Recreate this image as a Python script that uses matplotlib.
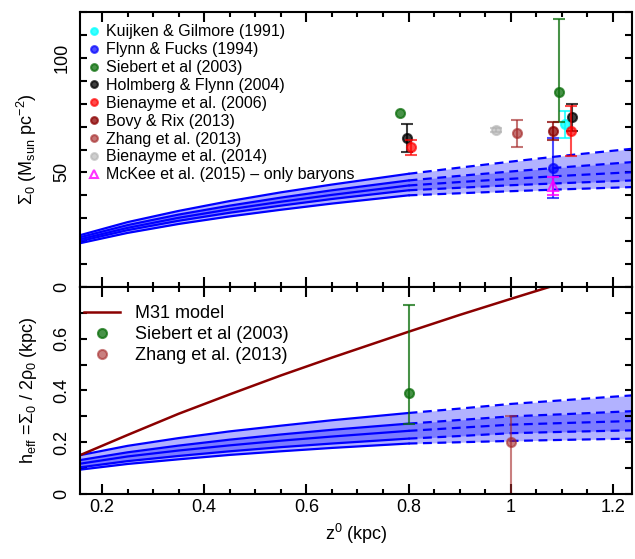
import numpy as np
import matplotlib
matplotlib.use('Agg')
import matplotlib.pyplot as plt
from matplotlib.ticker import MultipleLocator

plt.rcParams['font.family'] = ['Liberation Sans', 'DejaVu Sans']
plt.rcParams['mathtext.fontset'] = 'custom'
plt.rcParams['mathtext.rm'] = 'Liberation Sans'
plt.rcParams['mathtext.it'] = 'Liberation Sans:italic'

# Malla en z (kpc) de las curvas del modelo
z = [0.157, 0.25, 0.35, 0.45, 0.55, 0.65, 0.8, 0.9, 1.0, 1.1, 1.237]
z_obs = 0.8  # hasta aqui linea continua, despues discontinua

# Sigma_0 del modelo (5 curvas, de arriba a abajo)
sig1 = [22.6, 28.3, 33.2, 37.5, 41.3, 44.7, 49.4, 52.1, 54.7, 57.2, 60.3]
sig2 = [21.7, 27.0, 31.6, 35.5, 39.0, 42.2, 46.5, 48.5, 50.4, 52.2, 54.5]
sig3 = [20.8, 25.8, 30.2, 33.9, 37.2, 40.2, 44.3, 45.8, 47.2, 48.5, 50.1]
sig4 = [20.0, 24.8, 28.9, 32.4, 35.5, 38.4, 42.2, 43.3, 44.4, 45.3, 46.5]
sig5 = [19.1, 23.6, 27.5, 30.8, 33.7, 36.4, 40.0, 40.9, 41.8, 42.6, 43.6]

# h_eff del modelo (5 curvas)
h1 = [0.150, 0.186, 0.216, 0.242, 0.264, 0.285, 0.313, 0.330, 0.348, 0.362, 0.381]
h2 = [0.131, 0.161, 0.187, 0.210, 0.230, 0.248, 0.272, 0.286, 0.300, 0.308, 0.320]
h3 = [0.117, 0.145, 0.168, 0.188, 0.206, 0.222, 0.244, 0.256, 0.268, 0.274, 0.282]
h4 = [0.103, 0.127, 0.147, 0.165, 0.181, 0.195, 0.214, 0.224, 0.235, 0.240, 0.246]
h5 = [0.094, 0.116, 0.134, 0.151, 0.165, 0.178, 0.195, 0.200, 0.205, 0.209, 0.214]

# Modelo M31
h_m31 = [0.150, 0.228, 0.310, 0.385, 0.458, 0.527, 0.627, 0.692, 0.754, 0.815, 0.895]

# Observaciones de Sigma_0: (z, valor, error abajo, error arriba)
kuijken = ([1.107], [71], [6], [6])
flynn = ([1.083], [52], [13], [13])
siebert = ([0.783, 1.095], [76, 85], [0, 13], [0, 32])
holmberg = ([0.797, 1.12], [65, 74], [6, 6], [6, 6])
bienayme06 = ([0.805, 1.117], [61, 68], [3.3, 11], [3.3, 11])
bovy = ([1.083], [68], [4], [4])
zhang = ([1.013], [67], [6], [6])
bienayme14 = ([0.971], [68.5], [1], [1])
mckee = ([1.083], [44], [4], [4])

# Observaciones de h_eff
siebert_h = ([0.8], [0.39], [0.12], [0.34])
zhang_h = ([1.0], [0.20], [0.20], [0.10])

# Marcas de los ejes
xticks = [0.2, 0.4, 0.6, 0.8, 1.0, 1.2]
xticklabels = ['0.2', '0.4', '0.6', '0.8', '1', '1.2']
yticks1 = [0, 50, 100]
yticks2 = [0, 0.2, 0.4, 0.6]
yticklabels2 = ['0', '0.2', '0.4', '0.6']

fig = plt.figure(figsize=(6.35, 5.59), dpi=100)
ax1 = fig.add_axes([0.126, 0.4866, 0.869, 0.4919])
ax2 = fig.add_axes([0.126, 0.1163, 0.869, 0.3703])

z = np.array(z)
i0 = list(z).index(z_obs)


def banda(ax, curvas):
  ax.fill_between(z, curvas[0], curvas[4], color='blue', alpha=0.3, lw=0)
  ax.fill_between(z, curvas[1], curvas[3], color='blue', alpha=0.3, lw=0)
  for c in curvas:
    c = np.array(c)
    ax.plot(z[:i0+1], c[:i0+1], color='blue', lw=1.6)
    ax.plot(z[i0:], c[i0:], color='blue', lw=1.6, ls=(0, (4, 2.5)))


def obs(ax, d, color, alpha, label, marker='o', ms=6.5, mfc=None):
  zz, v, lo, hi = [np.array(a, dtype=float) for a in d]
  con = (lo + hi) > 0  # solo puntos con barra de error
  if con.any():
    ax.errorbar(zz[con], v[con], yerr=[lo[con], hi[con]], fmt='none',
                ecolor=color, alpha=alpha, elinewidth=1.5, capsize=4,
                capthick=1.5)
  ax.plot(zz, v, ls='none', marker=marker, ms=ms, color=color, alpha=alpha,
          mfc=mfc if mfc else color, mew=1.5, label=label)


'''
Panel superior
'''
banda(ax1, [sig1, sig2, sig3, sig4, sig5])
obs(ax1, kuijken, 'cyan', 0.75, 'Kuijken & Gilmore (1991)')
obs(ax1, flynn, 'blue', 0.7, 'Flynn & Fucks (1994)')
obs(ax1, siebert, '#0b6e0b', 0.75, 'Siebert et al (2003)')
obs(ax1, holmberg, 'black', 0.75, 'Holmberg & Flynn (2004)')
obs(ax1, bienayme06, 'red', 0.7, 'Bienayme et al. (2006)')
obs(ax1, bovy, '#8b0000', 0.75, 'Bovy & Rix (2013)')
obs(ax1, zhang, '#a52a2a', 0.65, 'Zhang et al. (2013)')
obs(ax1, bienayme14, '#b0b0b0', 0.6, 'Bienayme et al. (2014)')
obs(ax1, mckee, 'magenta', 0.8, 'McKee et al. (2015) \u2013 only baryons',
    marker='^', ms=7, mfc='none')

ax1.set_xlim(0.157, 1.237)
ax1.set_ylim(0, 120)
ax1.set_ylabel('\u03a3$_0$ (M$_{\\rm sun}$ pc$^{-2}$)', fontsize=13, labelpad=10)
ax1.set_yticks(yticks1)
ax1.set_yticklabels([str(v) for v in yticks1])
ax1.yaxis.set_minor_locator(MultipleLocator(10))
ax1.set_xticks(xticks)
ax1.tick_params(axis='x', labelbottom=False)
ax1.legend(loc='upper left', frameon=False, fontsize=11.5, handletextpad=0.05,
           labelspacing=0.18, markerscale=0.75, borderaxespad=0.2,
           handlelength=1.4, bbox_to_anchor=(-0.012, 0.99))

'''
Panel inferior
'''
banda(ax2, [h1, h2, h3, h4, h5])
ax2.plot(z, h_m31, color='#8b0000', lw=1.8, label='M31 model')
obs(ax2, siebert_h, '#0b6e0b', 0.75, 'Siebert et al (2003)')
obs(ax2, zhang_h, '#a52a2a', 0.6, 'Zhang et al. (2013)')

ax2.set_xlim(0.157, 1.237)
ax2.set_ylim(0, 0.8)
ax2.set_yticks(yticks2)
ax2.set_yticklabels(yticklabels2)
ax2.yaxis.set_minor_locator(MultipleLocator(0.1))
ax2.set_xticks(xticks)
ax2.set_xticklabels(xticklabels)
ax2.set_xlabel('z$^0$ (kpc)', fontsize=13, labelpad=4)
ax2.set_ylabel('h$_{\\rm eff}$ =\u03a3$_0$ / 2\u03c1$_0$ (kpc)', fontsize=13,
               labelpad=10)
ax2.legend(loc='upper left', frameon=False, fontsize=13, handletextpad=0.8,
           labelspacing=0.22, borderaxespad=0.2, handlelength=2.0,
           bbox_to_anchor=(-0.012, 0.965))

for ax in (ax1, ax2):
  ax.xaxis.set_minor_locator(MultipleLocator(0.05))
  ax.tick_params(which='both', direction='in', top=True, right=True,
                 width=1.5, labelsize=13)
  ax.tick_params(axis='x', which='major', length=7)
  ax.tick_params(axis='x', which='minor', length=3.5)
  ax.tick_params(axis='y', which='both', length=5, pad=7)
  for lab in ax.get_yticklabels():
    lab.set_rotation(90)
    lab.set_va('center')
  for s in ax.spines.values():
    s.set_linewidth(1.5)

plt.savefig('out.png', dpi=100)
